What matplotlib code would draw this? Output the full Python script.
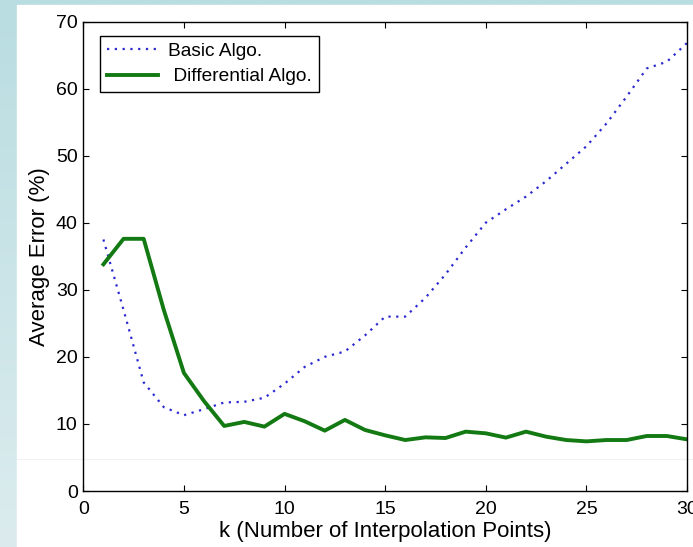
import numpy as np
import matplotlib
matplotlib.use('Agg')
import matplotlib.pyplot as plt
from matplotlib.patches import Rectangle

plt.rcParams['font.family'] = ['Liberation Sans', 'DejaVu Sans']

# values
k = list(range(1, 31))
basic = [37.5, 27.0, 16.2, 12.5, 11.3, 12.2, 13.2, 13.3, 13.9, 16.0,
         18.5, 20.0, 20.8, 23.2, 26.0, 26.0, 28.8, 32.3, 36.3, 40.0,
         42.0, 43.9, 46.2, 48.8, 51.4, 54.8, 58.8, 63.0, 64.0, 66.8]
differential = [33.8, 37.6, 37.6, 27.0, 17.6, 13.4, 9.7, 10.3, 9.6, 11.5,
                10.4, 9.0, 10.6, 9.1, 8.3, 7.6, 8.0, 7.9, 8.85, 8.6,
                7.96, 8.85, 8.1, 7.6, 7.4, 7.6, 7.6, 8.2, 8.2, 7.7]
xticks = [0, 5, 10, 15, 20, 25, 30]
yticks = [0, 10, 20, 30, 40, 50, 60, 70]

W, H = 693, 547
fig = plt.figure(figsize=(W / 100, H / 100), dpi=100)

# slide background: light blue strips on the left and top, white page
bg = fig.add_axes([0, 0, 1, 1], zorder=-10)
grad = np.linspace(0, 1, 256).reshape(-1, 1)
bg.imshow(grad, aspect='auto', extent=[0, 1, 0, 1],
          cmap=matplotlib.colors.LinearSegmentedColormap.from_list(
              'slide', ['#dcecee', '#b9dde1']), origin='lower')
bg.add_patch(Rectangle((17 / W, 0), 1, 1 - 5 / H, color='white'))
bg.plot([17 / W, 1], [1 - 459 / H, 1 - 459 / H], color='#f1f3f3', lw=0.8)
bg.set_xlim(0, 1)
bg.set_ylim(0, 1)
bg.axis('off')

ax = fig.add_axes([83.3 / W, 1 - 491 / H, (687 - 83.3) / W, (491 - 21.5) / H])
ax.patch.set_alpha(0)

ax.plot(k, basic, color='#2a2ad0', lw=1.6, linestyle=(0, (1, 2.5)),
        label='Basic Algo.')
ax.plot(k, differential, color='#137a13', lw=2.8, label=' Differential Algo.')

ax.set_xlim(0, 30)
ax.set_ylim(0, 70)
ax.set_xticks(xticks)
ax.set_yticks(yticks)
ax.tick_params(direction='in', top=True, right=True, length=4, width=0.8,
               labelsize=14, pad=4)
ax.tick_params(axis='x', pad=7)
for s in ax.spines.values():
    s.set_linewidth(1.0)

ax.set_xlabel('k (Number of Interpolation Points)', fontsize=16, labelpad=2)
ax.set_ylabel('Average Error (%)', fontsize=16, labelpad=4)

leg = ax.legend(loc='upper left', bbox_to_anchor=(0.0277, 0.969),
                borderaxespad=0, fontsize=13.8, handlelength=2.7,
                handletextpad=0.5, labelspacing=0.4, borderpad=0.35,
                fancybox=False, framealpha=1)
leg.get_frame().set_edgecolor('black')
leg.get_frame().set_linewidth(1.0)

plt.savefig('out.png', dpi=100)
plt.close()
